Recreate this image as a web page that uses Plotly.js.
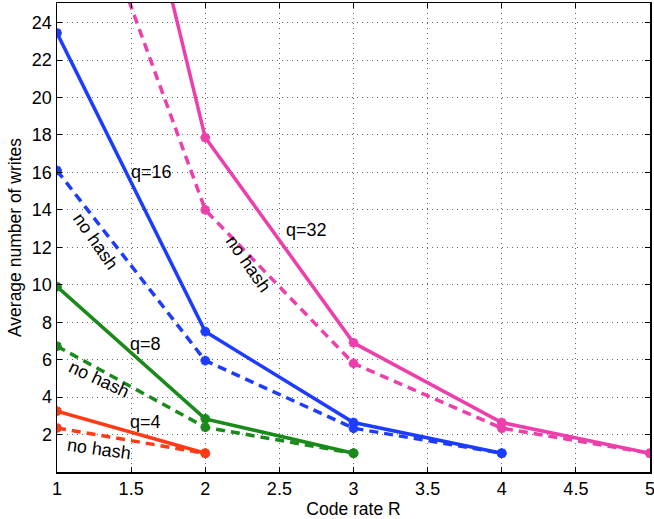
<!DOCTYPE html>
<html><head><meta charset="utf-8">
<script src="https://cdn.plot.ly/plotly-3.0.1.min.js"></script>
<style>body{margin:0;background:#fff}#c{width:654px;height:519px}</style>
</head><body><div id="c"></div>
<script>
const rate = [1, 2, 3, 4, 5];
const q4 = [3.25, 1.0];
const q4NoHash = [2.35, 1.0];
const q8 = [9.9, 2.84, 1.0];
const q8NoHash = [6.72, 2.39, 1.0];
const q16 = [23.45, 7.5, 2.64, 1.0];
const q16NoHash = [16.1, 5.95, 2.34, 1.0];
const q32 = [50.5, 17.86, 6.9, 2.64, 1.0];
const q32NoHash = [35.7, 14.0, 5.8, 2.34, 1.0];
const xTicks = ['1','1.5','2','2.5','3','3.5','4','4.5','5'];
const yTicks = ['2','4','6','8','10','12','14','16','18','20','22','24'];

const colors = {q4:'#ff3b17', q8:'#1a8a1a', q16:'#1c3cff', q32:'#ec3fab'};

function tr(y, color, dashed){
  return {x: rate.slice(0, y.length), y: y, type:'scatter', mode:'lines+markers',
    line:{color:color, width:3.5, dash: dashed ? '9px,6px' : 'solid'},
    marker:{color:color, size:8, symbol:'asterisk-open', line:{color:color, width:3}},
    showlegend:false, hoverinfo:'skip'};
}
const data = [
  tr(q4, colors.q4, false), tr(q4NoHash, colors.q4, true),
  tr(q8, colors.q8, false), tr(q8NoHash, colors.q8, true),
  tr(q16, colors.q16, false), tr(q16NoHash, colors.q16, true),
  tr(q32, colors.q32, false), tr(q32NoHash, colors.q32, true)
];
const fnt = {family:'Liberation Sans, Arial, sans-serif', size:18, color:'#000'};
function ann(x, y, text, angle){
  return {x:x, y:y, text:text, showarrow:false, textangle:angle||0, font:fnt, xanchor:'center', yanchor:'middle'};
}
const axCommon = {
  showgrid:true, gridcolor:'#666', griddash:'1px,4px', gridwidth:1,
  showline:true, linecolor:'#000', linewidth:1.5, mirror:'ticks', ticks:'inside', ticklen:5, tickcolor:'#000',
  zeroline:false, tickfont:{size:18}, ticklabeloverflow:'allow'
};
const layout = {
  width:654, height:519,
  margin:{l:57, r:4, t:3, b:47},
  paper_bgcolor:'#fff', plot_bgcolor:'#fff',
  font:{family:'Liberation Sans, Arial, sans-serif', size:18, color:'#000'},
  xaxis:Object.assign({}, axCommon, {range:[1,5], tickvals:xTicks.map(Number), ticktext:xTicks,
    title:{text:'Code rate R', font:{size:17.5}, standoff:3}}),
  yaxis:Object.assign({}, axCommon, {range:[0,25.05], tickvals:yTicks.map(Number), ticktext:yTicks,
    title:{text:'Average number of writes', font:{size:17.5}, standoff:5}}),
  annotations:[
    ann(1.64, 16.0, 'q=16'),
    ann(1.26, 12.35, 'no hash', 55),
    ann(1.60, 6.86, 'q=8'),
    ann(1.28, 4.95, 'no hash', 25),
    ann(1.60, 2.65, 'q=4'),
    ann(1.28, 1.25, 'no hash', 8),
    ann(2.68, 12.9, 'q=32'),
    ann(2.29, 11.1, 'no hash', 55)
  ]
};
Plotly.newPlot('c', data, layout, {displayModeBar:false, staticPlot:true});
</script></body></html>
